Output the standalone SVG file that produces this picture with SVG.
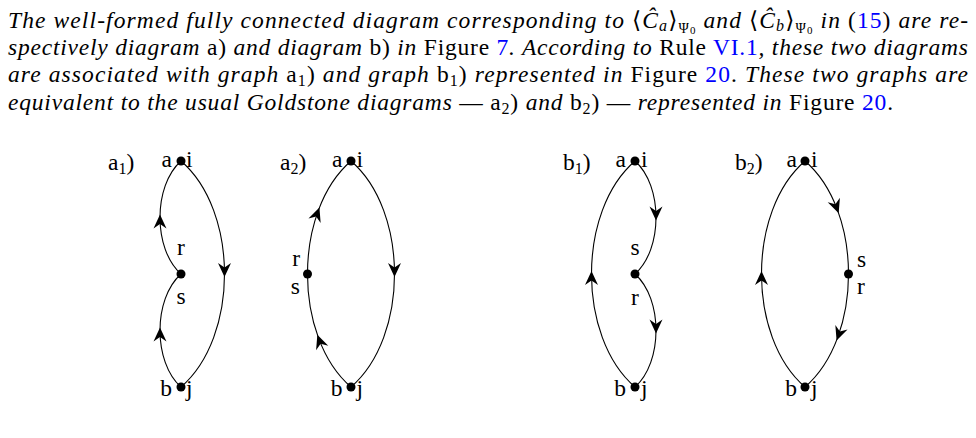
<svg xmlns="http://www.w3.org/2000/svg" width="976" height="438" viewBox="0 0 976 438">
<defs>
<style>
.t{font-family:"Liberation Serif","DejaVu Serif",serif;font-size:23.5px;fill:#000}
.it{font-style:italic}
.rm{font-style:normal}
.lk{font-style:normal;fill:#0000ff}
.sb{font-size:16px}
.ssb{font-size:11px}
.lbl{font-family:"Liberation Serif","DejaVu Serif",serif;font-size:23.5px;fill:#000}
.e{fill:none;stroke:#000;stroke-width:1.1;marker-mid:url(#arr)}
.v{fill:#000}
</style>
<marker id="arr" markerUnits="userSpaceOnUse" viewBox="-12 -7 16 14" refX="0" refY="0" markerWidth="16" markerHeight="14" orient="auto">
<path d="M3,0 L-11,-6.5 L-6.5,0 L-11,6.5 Z" fill="#000"/>
</marker>
</defs>

<g id="paragraph">
<text class="t it" x="8" y="27.5" textLength="960" lengthAdjust="spacing">The well-formed fully connected diagram corresponding to <tspan class="rm">⟨</tspan>Ĉ<tspan class="sb" dy="3">a</tspan><tspan class="rm" dy="-3">⟩</tspan><tspan class="rm" style="font-size:14px" dy="5">Ψ</tspan><tspan class="rm ssb" dy="1">0</tspan><tspan dy="-6"> and </tspan><tspan class="rm">⟨</tspan>Ĉ<tspan class="sb" dy="3">b</tspan><tspan class="rm" dy="-3">⟩</tspan><tspan class="rm" style="font-size:14px" dy="5">Ψ</tspan><tspan class="rm ssb" dy="1">0</tspan><tspan dy="-6"> in </tspan><tspan class="rm">(</tspan><tspan class="lk">15</tspan><tspan class="rm">)</tspan> are re-</text>
<text class="t it" x="8" y="55" textLength="960" lengthAdjust="spacing">spectively diagram <tspan class="rm">a)</tspan> and diagram <tspan class="rm">b)</tspan> in <tspan class="rm">Figure </tspan><tspan class="lk">7</tspan>. According to <tspan class="rm">Rule </tspan><tspan class="lk">VI.1</tspan>, these two diagrams</text>
<text class="t it" x="8" y="82" textLength="960" lengthAdjust="spacing">are associated with graph <tspan class="rm">a</tspan><tspan class="rm sb" dy="4">1</tspan><tspan class="rm" dy="-4">)</tspan> and graph <tspan class="rm">b</tspan><tspan class="rm sb" dy="4">1</tspan><tspan class="rm" dy="-4">)</tspan> represented in <tspan class="rm">Figure </tspan><tspan class="lk">20</tspan><tspan class="rm">.</tspan>  These two graphs are</text>
<text class="t it" x="8" y="109.5" textLength="885" lengthAdjust="spacing">equivalent to the usual Goldstone diagrams <tspan class="rm">—</tspan> <tspan class="rm">a</tspan><tspan class="rm sb" dy="4">2</tspan><tspan class="rm" dy="-4">)</tspan> and <tspan class="rm">b</tspan><tspan class="rm sb" dy="4">2</tspan><tspan class="rm" dy="-4">)</tspan> <tspan class="rm">—</tspan> represented in <tspan class="rm">Figure </tspan><tspan class="lk">20</tspan><tspan class="rm">.</tspan></text>
</g>

<g id="connectors">
<!-- a1 -->
<path class="e" d="M181,161 C210,186 224.5,230 224.5,274 C224.5,318 210,362 181,387"/>
<path class="e" d="M181,274 C167,261.5 160,239.5 160,217.5 C160,195.5 167,173.5 181,161"/>
<path class="e" d="M181,387 C167,374.5 160,352.5 160,330.5 C160,308.5 167,286.5 181,274"/>
<!-- a2 -->
<path class="e" d="M351,161 C380,186 394.5,230 394.5,274 C394.5,318 380,362 351,387"/>
<path class="e" d="M307.5,274 C307.5,252 311.125,230 318.375,210.375 C325.625,190.75 336.5,173.5 351,161"/>
<path class="e" d="M351,387 C336.5,374.5 325.625,357.25 318.375,337.625 C311.125,318 307.5,296 307.5,274"/>
<!-- b1 -->
<path class="e" d="M635,387 C606,362 591.5,318 591.5,274 C591.5,230 606,186 635,161"/>
<path class="e" d="M635,161 C649,173.5 656,195.5 656,217.5 C656,239.5 649,261.5 635,274"/>
<path class="e" d="M635,274 C649,286.5 656,308.5 656,330.5 C656,352.5 649,374.5 635,387"/>
<!-- b2 -->
<path class="e" d="M805,387 C776,362 761.5,318 761.5,274 C761.5,230 776,186 805,161"/>
<path class="e" d="M805,161 C819.5,173.5 830.375,190.75 837.625,210.375 C844.875,230 848.5,252 848.5,274"/>
<path class="e" d="M848.5,274 C848.5,296 844.875,318 837.625,337.625 C830.375,357.25 819.5,374.5 805,387"/>
</g>

<g id="graph-a1">
<text class="lbl" x="108" y="170">a<tspan class="sb" dy="4">1</tspan><tspan dy="-4">)</tspan></text>
<g id="a1-top"><circle class="v" cx="181" cy="161" r="4.5"/><text class="lbl" x="172" y="167" text-anchor="end">a</text><text class="lbl" x="186" y="167">i</text></g>
<g id="a1-mid"><circle class="v" cx="181" cy="274" r="4.5"/><text class="lbl" x="181" y="255" text-anchor="middle">r</text><text class="lbl" x="181" y="304" text-anchor="middle">s</text></g>
<g id="a1-bot"><circle class="v" cx="181" cy="387" r="4.5"/><text class="lbl" x="172" y="396" text-anchor="end">b</text><text class="lbl" x="186" y="396">j</text></g>
</g>

<g id="graph-a2">
<text class="lbl" x="280" y="170">a<tspan class="sb" dy="4">2</tspan><tspan dy="-4">)</tspan></text>
<g id="a2-top"><circle class="v" cx="351" cy="161" r="4.5"/><text class="lbl" x="342.5" y="167" text-anchor="end">a</text><text class="lbl" x="356.5" y="167">i</text></g>
<g id="a2-mid"><circle class="v" cx="307.5" cy="274" r="4.5"/><text class="lbl" x="300" y="266" text-anchor="end">r</text><text class="lbl" x="300" y="294" text-anchor="end">s</text></g>
<g id="a2-bot"><circle class="v" cx="351" cy="387" r="4.5"/><text class="lbl" x="342.5" y="396" text-anchor="end">b</text><text class="lbl" x="356.5" y="396">j</text></g>
</g>

<g id="graph-b1">
<text class="lbl" x="563" y="170">b<tspan class="sb" dy="4">1</tspan><tspan dy="-4">)</tspan></text>
<g id="b1-top"><circle class="v" cx="635" cy="161" r="4.5"/><text class="lbl" x="626" y="167" text-anchor="end">a</text><text class="lbl" x="641" y="167">i</text></g>
<g id="b1-mid"><circle class="v" cx="635" cy="274" r="4.5"/><text class="lbl" x="635" y="255" text-anchor="middle">s</text><text class="lbl" x="635" y="305" text-anchor="middle">r</text></g>
<g id="b1-bot"><circle class="v" cx="635" cy="387" r="4.5"/><text class="lbl" x="626" y="396" text-anchor="end">b</text><text class="lbl" x="641" y="396">j</text></g>
</g>

<g id="graph-b2">
<text class="lbl" x="735" y="170">b<tspan class="sb" dy="4">2</tspan><tspan dy="-4">)</tspan></text>
<g id="b2-top"><circle class="v" cx="805" cy="161" r="4.5"/><text class="lbl" x="797" y="167" text-anchor="end">a</text><text class="lbl" x="811" y="167">i</text></g>
<g id="b2-mid"><circle class="v" cx="848.5" cy="274" r="4.5"/><text class="lbl" x="857" y="267">s</text><text class="lbl" x="857" y="294">r</text></g>
<g id="b2-bot"><circle class="v" cx="805" cy="387" r="4.5"/><text class="lbl" x="797" y="396" text-anchor="end">b</text><text class="lbl" x="811" y="396">j</text></g>
</g>
</svg>
